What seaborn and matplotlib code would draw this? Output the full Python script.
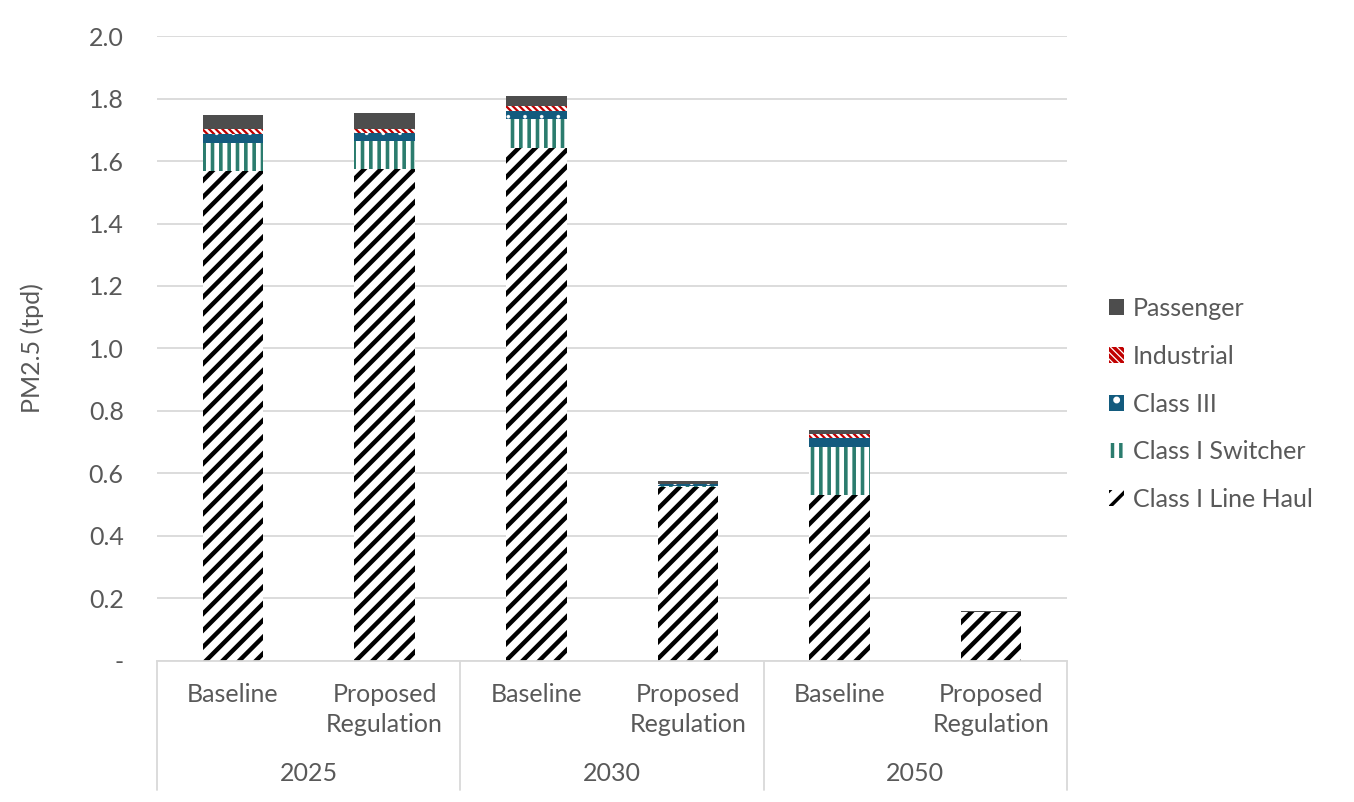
import matplotlib
matplotlib.use("Agg")
import matplotlib.pyplot as plt
import matplotlib.transforms as mtransforms
from matplotlib.patches import Patch
import numpy as np
import pandas as pd
import seaborn as sns

# Scenario columns (year / scenario)
years = ["2025", "2030", "2050"]
scenarios = ["Baseline", "Proposed\nRegulation"]
columns = ["2025 Baseline", "2025 Proposed", "2030 Baseline",
           "2030 Proposed", "2050 Baseline", "2050 Proposed"]

# PM2.5 emissions, tons per day, by rail sector
line_haul = [1.569, 1.574, 1.641, 0.557, 0.531, 0.157]
switcher = [0.090, 0.090, 0.093, 0.004, 0.155, 0.000]
class_iii = [0.027, 0.026, 0.025, 0.005, 0.026, 0.000]
industrial = [0.016, 0.013, 0.016, 0.001, 0.014, 0.000]
passenger = [0.045, 0.051, 0.032, 0.010, 0.012, 0.003]

sectors = ["Class I Line Haul", "Class I Switcher", "Class III", "Industrial", "Passenger"]
stack = np.array([line_haul, switcher, class_iii, industrial, passenger])
cum = np.cumsum(stack, axis=0)

styles = {
    "Passenger": dict(face="#4d4d4d", hatch=None, hcolor="#4d4d4d", hlw=1.0),
    "Industrial": dict(face="white", hatch="\\\\\\\\\\", hcolor="#c00000", hlw=1.6),
    "Class III": dict(face="#135b7e", hatch=".", hcolor="white", hlw=0.2),
    "Class I Switcher": dict(face="white", hatch="||", hcolor="#2b7c6e", hlw=2.6),
    "Class I Line Haul": dict(face="white", hatch="//", hcolor="black", hlw=3.2),
}

text_color = "#595959"
grid_color = "#d9d9d9"
fs = 18

sns.set_theme(style="white")
plt.rcParams["font.family"] = ["Lato", "DejaVu Sans"]
plt.rcParams["hatch.linewidth"] = 2.5

fig = plt.figure(figsize=(13.54, 8.02), dpi=100)
ax = fig.add_axes([0.116, 0.176, 0.672, 0.779])

# Draw cumulative totals from the top layer down so each layer covers the next
handles = []
for i in range(len(sectors))[::-1]:
    name = sectors[i]
    st = styles[name]
    df = pd.DataFrame({"col": columns, "value": cum[i]})
    n_before = len(ax.patches)
    sns.barplot(data=df, x="col", y="value", order=columns, ax=ax,
                color=st["face"], saturation=1, width=0.4,
                edgecolor=st["hcolor"], linewidth=0, hatch=st["hatch"],
                errorbar=None)
    for p in ax.patches[n_before:]:
        if hasattr(p, "set_hatch_linewidth"):
            p.set_hatch_linewidth(st["hlw"])
    h = Patch(facecolor=st["face"], edgecolor=st["hcolor"], hatch=st["hatch"],
              linewidth=0, label=name)
    if hasattr(h, "set_hatch_linewidth"):
        h.set_hatch_linewidth(st["hlw"])
    handles.append(h)

ax.set_xlim(-0.5, 5.5)
ax.set_ylim(0, 2.0)
yt = np.round(np.arange(0, 2.01, 0.2), 1)
ax.set_yticks(yt)
ax.set_yticklabels(["-"] + [f"{v:.1f}" for v in yt[1:]])
ax.tick_params(axis="y", length=0, pad=24, labelsize=fs, labelcolor=text_color)
ax.set_xticks([])
ax.set_xlabel("")
ax.set_ylabel("PM2.5 (tpd)", fontsize=fs, color=text_color, labelpad=32)
ax.yaxis.grid(True, color=grid_color, linewidth=1.3)
ax.set_axisbelow(True)
for s in ["top", "right", "left"]:
    ax.spines[s].set_visible(False)
ax.spines["bottom"].set_color(grid_color)
ax.spines["bottom"].set_linewidth(1.3)

# Two-level category axis
trans = mtransforms.blended_transform_factory(ax.transData, ax.transAxes)
for xb in [-0.5, 1.5, 3.5, 5.5]:
    ax.plot([xb, xb], [0, -0.207], transform=trans, color=grid_color,
            linewidth=1.3, clip_on=False)
for k in range(6):
    ax.text(k, -0.035, scenarios[k % 2], transform=trans, ha="center", va="top",
            fontsize=fs, color=text_color, linespacing=1.4)
for g, yr in enumerate(years):
    ax.text(2 * g + 0.5, -0.180, yr, transform=trans, ha="center", va="center",
            fontsize=fs, color=text_color)

leg = ax.legend(handles=handles, loc="center left", bbox_to_anchor=(1.035, 0.411),
                frameon=False, fontsize=fs, labelcolor=text_color,
                handlelength=0.6, handleheight=0.6, handletextpad=0.35,
                labelspacing=0.99, borderaxespad=0)

fig.savefig("out.png", dpi=100)
